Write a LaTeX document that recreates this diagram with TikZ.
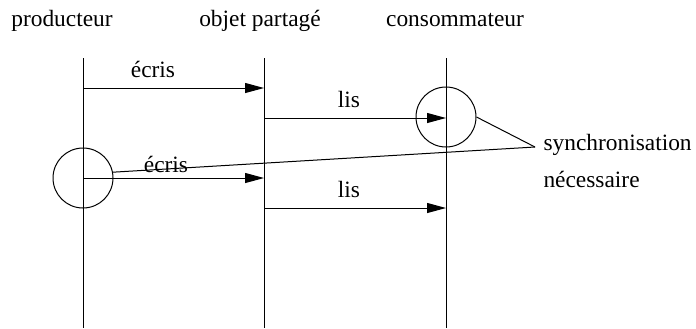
\documentclass[tikz,border=0pt]{standalone}
\usepackage{fontspec}
\setmainfont{Liberation Serif}
\usetikzlibrary{arrows.meta}

\begin{document}
\begin{tikzpicture}[x=0.5pt, y=-0.5pt, line width=0.5pt,
        font=\fontsize{11.7}{14}\selectfont,
        msg/.style={-{Triangle[length=9.5pt, width=5pt]}},
        lbl/.style={inner sep=0pt, anchor=base},
        zone/.style={draw, circle, minimum size=30pt, inner sep=0pt}]

    \useasboundingbox (0,0) rectangle (696,328);

    % Acteurs
    \node[lbl] (prod) at (62,26) {producteur};
    \node[lbl] (objet) at (260,26) {objet partagé};
    \node[lbl] (cons) at (455,26) {consommateur};

    % Lignes de vie
    \coordinate (prodtop) at (83,58);  \coordinate (prodbot) at (83,328);
    \coordinate (objtop) at (264,58);  \coordinate (objbot) at (264,328);
    \coordinate (constop) at (446,58); \coordinate (consbot) at (446,328);
    \draw (prodtop) -- (prodbot);
    \draw (objtop) -- (objbot);
    \draw (constop) -- (consbot);

    % Points des messages
    \coordinate (p1) at (83,88);   \coordinate (o1) at (264,88);
    \coordinate (o2) at (264,118); \coordinate (c2) at (446,118);
    \coordinate (p3) at (83,178);  \coordinate (o3) at (264,178);
    \coordinate (o4) at (264,208); \coordinate (c4) at (446,208);

    % Messages
    \draw[msg] (p1) -- (o1);
    \node[lbl] (ecris1) at (153,77) {écris};
    \draw[msg] (o2) -- (c2);
    \node[lbl] (lis1) at (349,107) {lis};
    \draw[msg] (p3) -- (o3);
    \node[lbl] (ecris2) at (166,172) {écris};
    \draw[msg] (o4) -- (c4);
    \node[lbl] (lis2) at (349,197) {lis};

    % Zones de conflit
    \node[zone] (zcons) at (446,117) {};
    \node[zone] (zprod) at (83,178) {};

    % Remarque
    \node[lbl, anchor=base west] (sync) at (543,150) {synchronisation};
    \node[lbl, anchor=base west] (necess) at (543,187) {nécessaire};
    \coordinate (pointe) at (535,147);
    \draw (pointe) -- (zcons.east);
    \draw (pointe) -- (zprod.11);

\end{tikzpicture}
\end{document}
